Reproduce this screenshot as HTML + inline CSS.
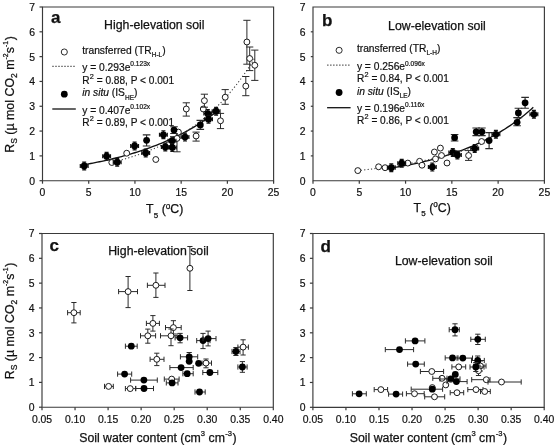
<!DOCTYPE html>
<html><head><meta charset="utf-8"><style>
html,body{margin:0;padding:0;background:#fff;}
body{width:555px;height:445px;overflow:hidden;}
svg{display:block;font-family:"Liberation Sans", sans-serif;will-change:transform;}
svg text{fill:#111;stroke:#111;stroke-width:0.25px;}
svg text.s{stroke-width:0.2px;}
</style></head><body>
<svg width="555" height="445" viewBox="0 0 555 445">
<rect width="555" height="445" fill="#fff"/>
<path d="M42.5,7.0H273.6V180.7H42.5Z" fill="none" stroke="#3a3a3a" stroke-width="1.15"/>
<line x1="39.5" y1="180.70" x2="42.5" y2="180.70" stroke="#3a3a3a" stroke-width="1.2"/>
<text transform="translate(35.10,184.60) scale(1,1.0)" class="s" text-anchor="end" font-size="10.4">0</text>
<line x1="39.5" y1="155.89" x2="42.5" y2="155.89" stroke="#3a3a3a" stroke-width="1.2"/>
<text transform="translate(35.10,159.79) scale(1,1.0)" class="s" text-anchor="end" font-size="10.4">1</text>
<line x1="39.5" y1="131.07" x2="42.5" y2="131.07" stroke="#3a3a3a" stroke-width="1.2"/>
<text transform="translate(35.10,134.97) scale(1,1.0)" class="s" text-anchor="end" font-size="10.4">2</text>
<line x1="39.5" y1="106.26" x2="42.5" y2="106.26" stroke="#3a3a3a" stroke-width="1.2"/>
<text transform="translate(35.10,110.16) scale(1,1.0)" class="s" text-anchor="end" font-size="10.4">3</text>
<line x1="39.5" y1="81.44" x2="42.5" y2="81.44" stroke="#3a3a3a" stroke-width="1.2"/>
<text transform="translate(35.10,85.34) scale(1,1.0)" class="s" text-anchor="end" font-size="10.4">4</text>
<line x1="39.5" y1="56.63" x2="42.5" y2="56.63" stroke="#3a3a3a" stroke-width="1.2"/>
<text transform="translate(35.10,60.53) scale(1,1.0)" class="s" text-anchor="end" font-size="10.4">5</text>
<line x1="39.5" y1="31.81" x2="42.5" y2="31.81" stroke="#3a3a3a" stroke-width="1.2"/>
<text transform="translate(35.10,35.71) scale(1,1.0)" class="s" text-anchor="end" font-size="10.4">6</text>
<line x1="39.5" y1="7.00" x2="42.5" y2="7.00" stroke="#3a3a3a" stroke-width="1.2"/>
<text transform="translate(35.10,10.90) scale(1,1.0)" class="s" text-anchor="end" font-size="10.4">7</text>
<line x1="42.50" y1="180.7" x2="42.50" y2="183.7" stroke="#3a3a3a" stroke-width="1.2"/>
<text transform="translate(42.50,196.00) scale(1,1.0)" class="s" text-anchor="middle" font-size="10.4">0</text>
<line x1="88.72" y1="180.7" x2="88.72" y2="183.7" stroke="#3a3a3a" stroke-width="1.2"/>
<text transform="translate(88.72,196.00) scale(1,1.0)" class="s" text-anchor="middle" font-size="10.4">5</text>
<line x1="134.94" y1="180.7" x2="134.94" y2="183.7" stroke="#3a3a3a" stroke-width="1.2"/>
<text transform="translate(134.94,196.00) scale(1,1.0)" class="s" text-anchor="middle" font-size="10.4">10</text>
<line x1="181.16" y1="180.7" x2="181.16" y2="183.7" stroke="#3a3a3a" stroke-width="1.2"/>
<text transform="translate(181.16,196.00) scale(1,1.0)" class="s" text-anchor="middle" font-size="10.4">15</text>
<line x1="227.38" y1="180.7" x2="227.38" y2="183.7" stroke="#3a3a3a" stroke-width="1.2"/>
<text transform="translate(227.38,196.00) scale(1,1.0)" class="s" text-anchor="middle" font-size="10.4">20</text>
<line x1="273.60" y1="180.7" x2="273.60" y2="183.7" stroke="#3a3a3a" stroke-width="1.2"/>
<text transform="translate(273.60,196.00) scale(1,1.0)" class="s" text-anchor="middle" font-size="10.4">25</text>
<path d="M313.0,7.0H544.4V180.7H313.0Z" fill="none" stroke="#3a3a3a" stroke-width="1.15"/>
<text transform="translate(305.60,184.60) scale(1,1.0)" class="s" text-anchor="end" font-size="10.4">0</text>
<line x1="310.8" y1="155.89" x2="313.0" y2="155.89" stroke="#3a3a3a" stroke-width="1.2"/>
<text transform="translate(305.60,159.79) scale(1,1.0)" class="s" text-anchor="end" font-size="10.4">1</text>
<line x1="310.8" y1="131.07" x2="313.0" y2="131.07" stroke="#3a3a3a" stroke-width="1.2"/>
<text transform="translate(305.60,134.97) scale(1,1.0)" class="s" text-anchor="end" font-size="10.4">2</text>
<line x1="310.8" y1="106.26" x2="313.0" y2="106.26" stroke="#3a3a3a" stroke-width="1.2"/>
<text transform="translate(305.60,110.16) scale(1,1.0)" class="s" text-anchor="end" font-size="10.4">3</text>
<line x1="310.8" y1="81.44" x2="313.0" y2="81.44" stroke="#3a3a3a" stroke-width="1.2"/>
<text transform="translate(305.60,85.34) scale(1,1.0)" class="s" text-anchor="end" font-size="10.4">4</text>
<line x1="310.8" y1="56.63" x2="313.0" y2="56.63" stroke="#3a3a3a" stroke-width="1.2"/>
<text transform="translate(305.60,60.53) scale(1,1.0)" class="s" text-anchor="end" font-size="10.4">5</text>
<line x1="310.8" y1="31.81" x2="313.0" y2="31.81" stroke="#3a3a3a" stroke-width="1.2"/>
<text transform="translate(305.60,35.71) scale(1,1.0)" class="s" text-anchor="end" font-size="10.4">6</text>
<text transform="translate(305.60,10.90) scale(1,1.0)" class="s" text-anchor="end" font-size="10.4">7</text>
<line x1="313.00" y1="180.7" x2="313.00" y2="183.7" stroke="#3a3a3a" stroke-width="1.2"/>
<text transform="translate(313.00,196.00) scale(1,1.0)" class="s" text-anchor="middle" font-size="10.4">0</text>
<line x1="359.28" y1="180.7" x2="359.28" y2="183.7" stroke="#3a3a3a" stroke-width="1.2"/>
<text transform="translate(359.28,196.00) scale(1,1.0)" class="s" text-anchor="middle" font-size="10.4">5</text>
<line x1="405.56" y1="180.7" x2="405.56" y2="183.7" stroke="#3a3a3a" stroke-width="1.2"/>
<text transform="translate(405.56,196.00) scale(1,1.0)" class="s" text-anchor="middle" font-size="10.4">10</text>
<line x1="451.84" y1="180.7" x2="451.84" y2="183.7" stroke="#3a3a3a" stroke-width="1.2"/>
<text transform="translate(451.84,196.00) scale(1,1.0)" class="s" text-anchor="middle" font-size="10.4">15</text>
<line x1="498.12" y1="180.7" x2="498.12" y2="183.7" stroke="#3a3a3a" stroke-width="1.2"/>
<text transform="translate(498.12,196.00) scale(1,1.0)" class="s" text-anchor="middle" font-size="10.4">20</text>
<line x1="544.40" y1="180.7" x2="544.40" y2="183.7" stroke="#3a3a3a" stroke-width="1.2"/>
<text transform="translate(544.40,196.00) scale(1,1.0)" class="s" text-anchor="middle" font-size="10.4">25</text>
<path d="M42.0,233.5H273.3V407.2H42.0Z" fill="none" stroke="#3a3a3a" stroke-width="1.15"/>
<line x1="39.0" y1="407.20" x2="42.0" y2="407.20" stroke="#3a3a3a" stroke-width="1.2"/>
<text transform="translate(34.60,411.10) scale(1,1.0)" class="s" text-anchor="end" font-size="10.4">0</text>
<line x1="39.0" y1="382.39" x2="42.0" y2="382.39" stroke="#3a3a3a" stroke-width="1.2"/>
<text transform="translate(34.60,386.29) scale(1,1.0)" class="s" text-anchor="end" font-size="10.4">1</text>
<line x1="39.0" y1="357.57" x2="42.0" y2="357.57" stroke="#3a3a3a" stroke-width="1.2"/>
<text transform="translate(34.60,361.47) scale(1,1.0)" class="s" text-anchor="end" font-size="10.4">2</text>
<line x1="39.0" y1="332.76" x2="42.0" y2="332.76" stroke="#3a3a3a" stroke-width="1.2"/>
<text transform="translate(34.60,336.66) scale(1,1.0)" class="s" text-anchor="end" font-size="10.4">3</text>
<line x1="39.0" y1="307.94" x2="42.0" y2="307.94" stroke="#3a3a3a" stroke-width="1.2"/>
<text transform="translate(34.60,311.84) scale(1,1.0)" class="s" text-anchor="end" font-size="10.4">4</text>
<line x1="39.0" y1="283.13" x2="42.0" y2="283.13" stroke="#3a3a3a" stroke-width="1.2"/>
<text transform="translate(34.60,287.03) scale(1,1.0)" class="s" text-anchor="end" font-size="10.4">5</text>
<line x1="39.0" y1="258.31" x2="42.0" y2="258.31" stroke="#3a3a3a" stroke-width="1.2"/>
<text transform="translate(34.60,262.21) scale(1,1.0)" class="s" text-anchor="end" font-size="10.4">6</text>
<line x1="39.0" y1="233.50" x2="42.0" y2="233.50" stroke="#3a3a3a" stroke-width="1.2"/>
<text transform="translate(34.60,237.40) scale(1,1.0)" class="s" text-anchor="end" font-size="10.4">7</text>
<line x1="42.00" y1="407.2" x2="42.00" y2="410.2" stroke="#3a3a3a" stroke-width="1.2"/>
<text transform="translate(42.00,422.50) scale(1,1.0)" class="s" text-anchor="middle" font-size="10.4">0.05</text>
<line x1="75.04" y1="407.2" x2="75.04" y2="410.2" stroke="#3a3a3a" stroke-width="1.2"/>
<text transform="translate(75.04,422.50) scale(1,1.0)" class="s" text-anchor="middle" font-size="10.4">0.10</text>
<line x1="108.09" y1="407.2" x2="108.09" y2="410.2" stroke="#3a3a3a" stroke-width="1.2"/>
<text transform="translate(108.09,422.50) scale(1,1.0)" class="s" text-anchor="middle" font-size="10.4">0.15</text>
<line x1="141.13" y1="407.2" x2="141.13" y2="410.2" stroke="#3a3a3a" stroke-width="1.2"/>
<text transform="translate(141.13,422.50) scale(1,1.0)" class="s" text-anchor="middle" font-size="10.4">0.20</text>
<line x1="174.17" y1="407.2" x2="174.17" y2="410.2" stroke="#3a3a3a" stroke-width="1.2"/>
<text transform="translate(174.17,422.50) scale(1,1.0)" class="s" text-anchor="middle" font-size="10.4">0.25</text>
<line x1="207.21" y1="407.2" x2="207.21" y2="410.2" stroke="#3a3a3a" stroke-width="1.2"/>
<text transform="translate(207.21,422.50) scale(1,1.0)" class="s" text-anchor="middle" font-size="10.4">0.30</text>
<line x1="240.26" y1="407.2" x2="240.26" y2="410.2" stroke="#3a3a3a" stroke-width="1.2"/>
<text transform="translate(240.26,422.50) scale(1,1.0)" class="s" text-anchor="middle" font-size="10.4">0.35</text>
<line x1="273.30" y1="407.2" x2="273.30" y2="410.2" stroke="#3a3a3a" stroke-width="1.2"/>
<text transform="translate(273.30,422.50) scale(1,1.0)" class="s" text-anchor="middle" font-size="10.4">0.40</text>
<path d="M312.9,233.5H544.2V407.3H312.9Z" fill="none" stroke="#3a3a3a" stroke-width="1.15"/>
<line x1="309.9" y1="407.30" x2="312.9" y2="407.30" stroke="#3a3a3a" stroke-width="1.2"/>
<text transform="translate(305.50,411.20) scale(1,1.0)" class="s" text-anchor="end" font-size="10.4">0</text>
<line x1="309.9" y1="382.47" x2="312.9" y2="382.47" stroke="#3a3a3a" stroke-width="1.2"/>
<text transform="translate(305.50,386.37) scale(1,1.0)" class="s" text-anchor="end" font-size="10.4">1</text>
<line x1="309.9" y1="357.64" x2="312.9" y2="357.64" stroke="#3a3a3a" stroke-width="1.2"/>
<text transform="translate(305.50,361.54) scale(1,1.0)" class="s" text-anchor="end" font-size="10.4">2</text>
<line x1="309.9" y1="332.81" x2="312.9" y2="332.81" stroke="#3a3a3a" stroke-width="1.2"/>
<text transform="translate(305.50,336.71) scale(1,1.0)" class="s" text-anchor="end" font-size="10.4">3</text>
<line x1="309.9" y1="307.99" x2="312.9" y2="307.99" stroke="#3a3a3a" stroke-width="1.2"/>
<text transform="translate(305.50,311.89) scale(1,1.0)" class="s" text-anchor="end" font-size="10.4">4</text>
<line x1="309.9" y1="283.16" x2="312.9" y2="283.16" stroke="#3a3a3a" stroke-width="1.2"/>
<text transform="translate(305.50,287.06) scale(1,1.0)" class="s" text-anchor="end" font-size="10.4">5</text>
<line x1="309.9" y1="258.33" x2="312.9" y2="258.33" stroke="#3a3a3a" stroke-width="1.2"/>
<text transform="translate(305.50,262.23) scale(1,1.0)" class="s" text-anchor="end" font-size="10.4">6</text>
<line x1="309.9" y1="233.50" x2="312.9" y2="233.50" stroke="#3a3a3a" stroke-width="1.2"/>
<text transform="translate(305.50,237.40) scale(1,1.0)" class="s" text-anchor="end" font-size="10.4">7</text>
<line x1="312.90" y1="407.3" x2="312.90" y2="410.3" stroke="#3a3a3a" stroke-width="1.2"/>
<text transform="translate(312.90,422.60) scale(1,1.0)" class="s" text-anchor="middle" font-size="10.4">0.05</text>
<line x1="345.94" y1="407.3" x2="345.94" y2="410.3" stroke="#3a3a3a" stroke-width="1.2"/>
<text transform="translate(345.94,422.60) scale(1,1.0)" class="s" text-anchor="middle" font-size="10.4">0.10</text>
<line x1="378.99" y1="407.3" x2="378.99" y2="410.3" stroke="#3a3a3a" stroke-width="1.2"/>
<text transform="translate(378.99,422.60) scale(1,1.0)" class="s" text-anchor="middle" font-size="10.4">0.15</text>
<line x1="412.03" y1="407.3" x2="412.03" y2="410.3" stroke="#3a3a3a" stroke-width="1.2"/>
<text transform="translate(412.03,422.60) scale(1,1.0)" class="s" text-anchor="middle" font-size="10.4">0.20</text>
<line x1="445.07" y1="407.3" x2="445.07" y2="410.3" stroke="#3a3a3a" stroke-width="1.2"/>
<text transform="translate(445.07,422.60) scale(1,1.0)" class="s" text-anchor="middle" font-size="10.4">0.25</text>
<line x1="478.11" y1="407.3" x2="478.11" y2="410.3" stroke="#3a3a3a" stroke-width="1.2"/>
<text transform="translate(478.11,422.60) scale(1,1.0)" class="s" text-anchor="middle" font-size="10.4">0.30</text>
<line x1="511.16" y1="407.3" x2="511.16" y2="410.3" stroke="#3a3a3a" stroke-width="1.2"/>
<text transform="translate(511.16,422.60) scale(1,1.0)" class="s" text-anchor="middle" font-size="10.4">0.35</text>
<line x1="544.20" y1="407.3" x2="544.20" y2="410.3" stroke="#3a3a3a" stroke-width="1.2"/>
<text transform="translate(544.20,422.60) scale(1,1.0)" class="s" text-anchor="middle" font-size="10.4">0.40</text>
<text x="50.9" y="23.4" font-size="17" font-weight="bold">a</text>
<text x="322.0" y="26.4" font-size="17" font-weight="bold">b</text>
<text x="49.6" y="251.0" font-size="17" font-weight="bold">c</text>
<text x="320.6" y="252.0" font-size="17" font-weight="bold">d</text>
<text x="104.1" y="28.8" font-size="12.3">High-elevation soil</text>
<text x="388.1" y="29.7" font-size="12.3">Low-elevation soil</text>
<text x="108.2" y="254.6" font-size="12.3">High-elevation soil</text>
<text x="394.9" y="264.7" font-size="12.3">Low-elevation soil</text>
<text x="146.0" y="213.3" font-size="12.3">T<tspan font-size="8" dx="0.3" dy="4.2">5</tspan><tspan dy="-4.2"> (</tspan><tspan font-size="8.2" dy="-4.6">o</tspan><tspan dy="4.6">C)</tspan></text>
<text x="413.5" y="212.0" font-size="12.3">T<tspan font-size="8" dx="0.3" dy="4.2">5</tspan><tspan dy="-4.2"> (</tspan><tspan font-size="8.2" dy="-4.6">o</tspan><tspan dy="4.6">C)</tspan></text>
<text x="79.2" y="442.1" font-size="12.3">Soil water content (cm<tspan font-size="7.6" dy="-6.4">3</tspan><tspan dy="6.4"> cm</tspan><tspan font-size="7.6" dx="0.3" dy="-6.4">-3</tspan><tspan dx="0.5" dy="6.4">)</tspan></text>
<text x="349.8" y="442.1" font-size="12.3">Soil water content (cm<tspan font-size="7.6" dy="-6.4">3</tspan><tspan dy="6.4"> cm</tspan><tspan font-size="7.6" dx="0.3" dy="-6.4">-3</tspan><tspan dx="0.5" dy="6.4">)</tspan></text>
<text transform="translate(13.5,94.5) rotate(-90)" text-anchor="middle" font-size="12.4">R<tspan font-size="8.6" dy="3.6">S</tspan><tspan dy="-3.6"> (µ mol CO</tspan><tspan font-size="8.6" dy="3.6">2</tspan><tspan dy="-3.6"> m</tspan><tspan font-size="6.9" dy="-5.7">-2</tspan><tspan dy="5.7">s</tspan><tspan font-size="6.9" dy="-5.7">-1</tspan><tspan dx="0.6" dy="5.7">)</tspan></text>
<text transform="translate(13.5,321.0) rotate(-90)" text-anchor="middle" font-size="12.4">R<tspan font-size="8.6" dy="3.6">S</tspan><tspan dy="-3.6"> (µ mol CO</tspan><tspan font-size="8.6" dy="3.6">2</tspan><tspan dy="-3.6"> m</tspan><tspan font-size="6.9" dy="-5.7">-2</tspan><tspan dy="5.7">s</tspan><tspan font-size="6.9" dy="-5.7">-1</tspan><tspan dx="0.6" dy="5.7">)</tspan></text>
<circle cx="64.3" cy="52.0" r="3.05" fill="#fff" stroke="#222" stroke-width="0.95"/>
<line x1="52.199999999999996" y1="66.4" x2="75.6" y2="66.4" stroke="#6a6a6a" stroke-width="1.25" stroke-dasharray="1.6,1.4"/>
<circle cx="64.3" cy="94.2" r="3.4" fill="#000"/>
<line x1="52.3" y1="109.0" x2="75.8" y2="109.0" stroke="#111" stroke-width="1.3"/>
<text transform="translate(82.2,53.9) scale(1,1.0)" class="s" font-size="10.25">transferred (TR<tspan font-size="6.5" dy="3.4">H-L</tspan><tspan dy="-3.4">)</tspan></text>
<text transform="translate(82.2,70.8) scale(1,1.0)" class="s" font-size="10.25">y = 0.293e<tspan font-size="6.6" dy="-4.6">0.123x</tspan></text>
<text transform="translate(82.2,84.0) scale(1,1.0)" class="s" font-size="10.12">R<tspan font-size="7.3" dx="0.3" dy="-5.4">2</tspan><tspan dy="5.4"> = 0.88, P &lt; 0.001</tspan></text>
<text transform="translate(82.2,96.2) scale(1,1.0)" class="s" font-size="10.25"><tspan font-style="italic">in situ</tspan> (IS<tspan font-size="6.5" dy="3.4">HE</tspan><tspan dy="-3.4">)</tspan></text>
<text transform="translate(82.2,113.9) scale(1,1.0)" class="s" font-size="10.25">y = 0.407e<tspan font-size="6.6" dy="-4.6">0.102x</tspan></text>
<text transform="translate(82.2,126.3) scale(1,1.0)" class="s" font-size="10.12">R<tspan font-size="7.3" dx="0.3" dy="-5.4">2</tspan><tspan dy="5.4"> = 0.89, P &lt; 0.001</tspan></text>
<circle cx="339.1" cy="50.3" r="3.05" fill="#fff" stroke="#222" stroke-width="0.95"/>
<line x1="327.0" y1="65.2" x2="350.40000000000003" y2="65.2" stroke="#6a6a6a" stroke-width="1.25" stroke-dasharray="1.6,1.4"/>
<circle cx="339.1" cy="92.5" r="3.4" fill="#000"/>
<line x1="327.1" y1="107.7" x2="350.6" y2="107.7" stroke="#111" stroke-width="1.3"/>
<text transform="translate(356.9,51.9) scale(1,1.0)" class="s" font-size="10.25">transferred (TR<tspan font-size="6.5" dy="3.4">L-H</tspan><tspan dy="-3.4">)</tspan></text>
<text transform="translate(356.9,70.2) scale(1,1.0)" class="s" font-size="10.25">y = 0.256e<tspan font-size="6.6" dy="-4.6">0.096x</tspan></text>
<text transform="translate(356.9,82.4) scale(1,1.0)" class="s" font-size="10.12">R<tspan font-size="7.3" dx="0.3" dy="-5.4">2</tspan><tspan dy="5.4"> = 0.84, P &lt; 0.001</tspan></text>
<text transform="translate(356.9,94.6) scale(1,1.0)" class="s" font-size="10.25"><tspan font-style="italic">in situ</tspan> (IS<tspan font-size="6.5" dy="3.4">LE</tspan><tspan dy="-3.4">)</tspan></text>
<text transform="translate(356.9,111.9) scale(1,1.0)" class="s" font-size="10.25">y = 0.196e<tspan font-size="6.6" dy="-4.6">0.116x</tspan></text>
<text transform="translate(356.9,124.3) scale(1,1.0)" class="s" font-size="10.12">R<tspan font-size="7.3" dx="0.3" dy="-5.4">2</tspan><tspan dy="5.4"> = 0.86, P &lt; 0.001</tspan></text>
<polyline points="84.10,164.72 86.30,164.32 88.50,163.92 90.71,163.51 92.91,163.09 95.11,162.65 97.32,162.21 99.52,161.75 101.72,161.29 103.93,160.81 106.13,160.32 108.33,159.82 110.54,159.30 112.74,158.78 114.94,158.24 117.15,157.69 119.35,157.12 121.55,156.54 123.75,155.94 125.96,155.34 128.16,154.71 130.36,154.07 132.57,153.42 134.77,152.74 136.97,152.06 139.18,151.35 141.38,150.63 143.58,149.89 145.79,149.13 147.99,148.35 150.19,147.56 152.40,146.74 154.60,145.91 156.80,145.05 159.01,144.17 161.21,143.28 163.41,142.35 165.61,141.41 167.82,140.44 170.02,139.45 172.22,138.44 174.43,137.40 176.63,136.33 178.83,135.24 181.04,134.12 183.24,132.98 185.44,131.80 187.65,130.60 189.85,129.37 192.05,128.10 194.26,126.81 196.46,125.48 198.66,124.12 200.87,122.73 203.07,121.30 205.27,119.84 207.47,118.35 209.68,116.81 211.88,115.24 214.08,113.63 216.29,111.98" fill="none" stroke="#111" stroke-width="1.35"/>
<polyline points="111.83,162.41 114.22,161.82 116.61,161.21 118.99,160.58 121.38,159.93 123.77,159.26 126.16,158.57 128.55,157.85 130.93,157.12 133.32,156.36 135.71,155.57 138.10,154.76 140.49,153.92 142.87,153.06 145.26,152.16 147.65,151.24 150.04,150.29 152.43,149.31 154.81,148.30 157.20,147.25 159.59,146.17 161.98,145.05 164.37,143.90 166.75,142.72 169.14,141.49 171.53,140.22 173.92,138.92 176.31,137.57 178.69,136.18 181.08,134.74 183.47,133.25 185.86,131.72 188.25,130.14 190.64,128.51 193.02,126.82 195.41,125.08 197.80,123.29 200.19,121.44 202.58,119.52 204.96,117.55 207.35,115.51 209.74,113.40 212.13,111.23 214.52,108.99 216.90,106.67 219.29,104.28 221.68,101.82 224.07,99.27 226.46,96.64 228.84,93.93 231.23,91.12 233.62,88.23 236.01,85.25 238.40,82.16 240.78,78.98 243.17,75.70 245.56,72.31 247.95,68.81 250.34,65.20 252.72,61.47 255.11,57.62" fill="none" stroke="#444" stroke-width="1.1" stroke-dasharray="1.2,2.2"/>
<circle cx="111.8" cy="162.5" r="2.9499999999999997" fill="#fff" stroke="#111" stroke-width="0.95"/>
<circle cx="126.7" cy="153.2" r="2.9499999999999997" fill="#fff" stroke="#111" stroke-width="0.95"/>
<circle cx="155.8" cy="159.5" r="2.9499999999999997" fill="#fff" stroke="#111" stroke-width="0.95"/>
<circle cx="178.4" cy="132.1" r="2.9499999999999997" fill="#fff" stroke="#111" stroke-width="0.95"/>
<path d="M177.0,137.0V151.8M173.4,137.0h7.2M173.4,151.8h7.2" fill="none" stroke="#2a2a2a" stroke-width="1.0"/>
<circle cx="177.0" cy="138.4" r="2.9499999999999997" fill="#fff" stroke="#111" stroke-width="0.95"/>
<path d="M186.3,102.8V116.1M182.7,102.8h7.2M182.7,116.1h7.2" fill="none" stroke="#2a2a2a" stroke-width="1.0"/>
<circle cx="186.3" cy="109.0" r="2.9499999999999997" fill="#fff" stroke="#111" stroke-width="0.95"/>
<path d="M196.1,132.1V141.1M192.5,132.1h7.2M192.5,141.1h7.2" fill="none" stroke="#2a2a2a" stroke-width="1.0"/>
<circle cx="196.1" cy="136.0" r="2.9499999999999997" fill="#fff" stroke="#111" stroke-width="0.95"/>
<circle cx="203.3" cy="109.0" r="2.9499999999999997" fill="#fff" stroke="#111" stroke-width="0.95"/>
<path d="M204.4,94.2V107.2M200.8,94.2h7.2M200.8,107.2h7.2" fill="none" stroke="#2a2a2a" stroke-width="1.0"/>
<circle cx="204.4" cy="100.7" r="2.9499999999999997" fill="#fff" stroke="#111" stroke-width="0.95"/>
<path d="M220.5,113.4V128.6M216.9,113.4h7.2M216.9,128.6h7.2" fill="none" stroke="#2a2a2a" stroke-width="1.0"/>
<circle cx="220.5" cy="120.8" r="2.9499999999999997" fill="#fff" stroke="#111" stroke-width="0.95"/>
<path d="M225.2,89.6V104.3M221.6,89.6h7.2M221.6,104.3h7.2" fill="none" stroke="#2a2a2a" stroke-width="1.0"/>
<circle cx="225.2" cy="97.2" r="2.9499999999999997" fill="#fff" stroke="#111" stroke-width="0.95"/>
<path d="M245.8,76.5V95.7M242.2,76.5h7.2M242.2,95.7h7.2" fill="none" stroke="#2a2a2a" stroke-width="1.0"/>
<circle cx="245.8" cy="86.1" r="2.9499999999999997" fill="#fff" stroke="#111" stroke-width="0.95"/>
<path d="M246.9,20.3V64.2M243.3,20.3h7.2M243.3,64.2h7.2" fill="none" stroke="#2a2a2a" stroke-width="1.0"/>
<circle cx="246.9" cy="42.0" r="2.9499999999999997" fill="#fff" stroke="#111" stroke-width="0.95"/>
<path d="M249.7,47.0V70.6M246.1,47.0h7.2M246.1,70.6h7.2" fill="none" stroke="#2a2a2a" stroke-width="1.0"/>
<circle cx="249.7" cy="58.5" r="2.9499999999999997" fill="#fff" stroke="#111" stroke-width="0.95"/>
<path d="M254.8,50.1V80.4M251.2,50.1h7.2M251.2,80.4h7.2" fill="none" stroke="#2a2a2a" stroke-width="1.0"/>
<circle cx="254.8" cy="65.3" r="2.9499999999999997" fill="#fff" stroke="#111" stroke-width="0.95"/>
<path d="M84.2,162.1V169.9M82.2,162.1h4.0M82.2,169.9h4.0M80.3,166.0H88.1M80.3,164.0v4.0M88.1,164.0v4.0" fill="none" stroke="#111" stroke-width="1.2"/>
<circle cx="84.2" cy="166.0" r="3.4" fill="#000"/>
<path d="M106.6,152.3V160.1M104.6,152.3h4.0M104.6,160.1h4.0M102.7,156.2H110.5M102.7,154.2v4.0M110.5,154.2v4.0" fill="none" stroke="#111" stroke-width="1.2"/>
<circle cx="106.6" cy="156.2" r="3.4" fill="#000"/>
<path d="M117.2,158.3V166.1M115.2,158.3h4.0M115.2,166.1h4.0M113.3,162.2H121.1M113.3,160.2v4.0M121.1,160.2v4.0" fill="none" stroke="#111" stroke-width="1.2"/>
<circle cx="117.2" cy="162.2" r="3.4" fill="#000"/>
<path d="M134.6,142.1V149.9M132.6,142.1h4.0M132.6,149.9h4.0M130.7,146.0H138.5M130.7,144.0v4.0M138.5,144.0v4.0" fill="none" stroke="#111" stroke-width="1.2"/>
<circle cx="134.6" cy="146.0" r="3.4" fill="#000"/>
<path d="M146.6,134.9V146.0M142.8,134.9h7.6M142.8,146.0h7.6" fill="none" stroke="#2a2a2a" stroke-width="1.15"/>
<circle cx="146.6" cy="140.3" r="3.4" fill="#000"/>
<path d="M145.7,149.1V156.9M143.7,149.1h4.0M143.7,156.9h4.0M141.8,153.0H149.6M141.8,151.0v4.0M149.6,151.0v4.0" fill="none" stroke="#111" stroke-width="1.2"/>
<circle cx="145.7" cy="153.0" r="3.4" fill="#000"/>
<path d="M163.4,130.9V138.7M161.4,130.9h4.0M161.4,138.7h4.0M159.5,134.8H167.3M159.5,132.8v4.0M167.3,132.8v4.0" fill="none" stroke="#111" stroke-width="1.2"/>
<circle cx="163.4" cy="134.8" r="3.4" fill="#000"/>
<path d="M165.3,143.1V150.9M163.3,143.1h4.0M163.3,150.9h4.0M161.4,147.0H169.2M161.4,145.0v4.0M169.2,145.0v4.0" fill="none" stroke="#111" stroke-width="1.2"/>
<circle cx="165.3" cy="147.0" r="3.4" fill="#000"/>
<path d="M172.0,136.9V144.7M170.0,136.9h4.0M170.0,144.7h4.0M168.1,140.8H175.9M168.1,138.8v4.0M175.9,138.8v4.0" fill="none" stroke="#111" stroke-width="1.2"/>
<circle cx="172.0" cy="140.8" r="3.4" fill="#000"/>
<path d="M172.3,143.7V151.5M170.3,143.7h4.0M170.3,151.5h4.0M168.4,147.6H176.2M168.4,145.6v4.0M176.2,145.6v4.0" fill="none" stroke="#111" stroke-width="1.2"/>
<circle cx="172.3" cy="147.6" r="3.4" fill="#000"/>
<path d="M174.0,126.7V133.5M170.2,126.7h7.6M170.2,133.5h7.6" fill="none" stroke="#2a2a2a" stroke-width="1.15"/>
<circle cx="174.0" cy="130.1" r="3.4" fill="#000"/>
<path d="M185.0,133.2V141.0M183.0,133.2h4.0M183.0,141.0h4.0M181.1,137.1H188.9M181.1,135.1v4.0M188.9,135.1v4.0" fill="none" stroke="#111" stroke-width="1.2"/>
<circle cx="185.0" cy="137.1" r="3.4" fill="#000"/>
<path d="M200.3,120.4V129.4M196.5,120.4h7.6M196.5,129.4h7.6" fill="none" stroke="#2a2a2a" stroke-width="1.15"/>
<circle cx="200.3" cy="124.9" r="3.4" fill="#000"/>
<path d="M207.8,109.7V117.5M205.8,109.7h4.0M205.8,117.5h4.0M203.9,113.6H211.7M203.9,111.6v4.0M211.7,111.6v4.0" fill="none" stroke="#111" stroke-width="1.2"/>
<circle cx="207.8" cy="113.6" r="3.4" fill="#000"/>
<path d="M208.5,115.3V123.1M206.5,115.3h4.0M206.5,123.1h4.0M204.6,119.2H212.4M204.6,117.2v4.0M212.4,117.2v4.0" fill="none" stroke="#111" stroke-width="1.2"/>
<circle cx="208.5" cy="119.2" r="3.4" fill="#000"/>
<path d="M216.1,107.3V115.1M214.1,107.3h4.0M214.1,115.1h4.0M212.2,111.2H220.0M212.2,109.2v4.0M220.0,109.2v4.0" fill="none" stroke="#111" stroke-width="1.2"/>
<circle cx="216.1" cy="111.2" r="3.4" fill="#000"/>
<polyline points="391.68,167.88 394.04,167.50 396.40,167.12 398.76,166.71 401.12,166.30 403.48,165.88 405.84,165.44 408.20,164.99 410.56,164.53 412.92,164.05 415.28,163.56 417.64,163.05 420.00,162.53 422.36,162.00 424.72,161.45 427.08,160.88 429.44,160.29 431.80,159.69 434.16,159.07 436.52,158.43 438.88,157.78 441.24,157.10 443.60,156.40 445.96,155.69 448.32,154.95 450.68,154.19 453.04,153.41 455.40,152.60 457.76,151.77 460.12,150.92 462.48,150.04 464.84,149.14 467.20,148.21 469.57,147.25 471.93,146.26 474.29,145.25 476.65,144.20 479.01,143.12 481.37,142.02 483.73,140.87 486.09,139.70 488.45,138.49 490.81,137.25 493.17,135.96 495.53,134.64 497.89,133.29 500.25,131.89 502.61,130.45 504.97,128.96 507.33,127.44 509.69,125.87 512.05,124.25 514.41,122.59 516.77,120.87 519.13,119.11 521.49,117.29 523.85,115.42 526.21,113.49 528.57,111.51 530.93,109.47 533.29,107.37" fill="none" stroke="#111" stroke-width="1.35"/>
<polyline points="357.43,170.63 359.54,170.41 361.66,170.18 363.77,169.94 365.88,169.71 368.00,169.46 370.11,169.21 372.22,168.96 374.34,168.70 376.45,168.43 378.56,168.16 380.68,167.88 382.79,167.60 384.90,167.31 387.02,167.01 389.13,166.71 391.24,166.40 393.36,166.08 395.47,165.76 397.58,165.43 399.70,165.09 401.81,164.74 403.92,164.39 406.04,164.03 408.15,163.66 410.27,163.28 412.38,162.89 414.49,162.50 416.61,162.10 418.72,161.68 420.83,161.26 422.95,160.83 425.06,160.39 427.17,159.94 429.29,159.48 431.40,159.01 433.51,158.53 435.63,158.04 437.74,157.54 439.85,157.02 441.97,156.50 444.08,155.96 446.19,155.41 448.31,154.85 450.42,154.28 452.53,153.69 454.65,153.10 456.76,152.48 458.87,151.86 460.99,151.22 463.10,150.57 465.21,149.90 467.33,149.22 469.44,148.52 471.56,147.80 473.67,147.08 475.78,146.33 477.90,145.57 480.01,144.79 482.12,143.99 484.24,143.18" fill="none" stroke="#444" stroke-width="1.1" stroke-dasharray="1.2,2.2"/>
<circle cx="357.8" cy="170.6" r="2.9499999999999997" fill="#fff" stroke="#111" stroke-width="0.95"/>
<circle cx="378.6" cy="166.8" r="2.9499999999999997" fill="#fff" stroke="#111" stroke-width="0.95"/>
<circle cx="385.1" cy="167.7" r="2.9499999999999997" fill="#fff" stroke="#111" stroke-width="0.95"/>
<circle cx="407.8" cy="163.1" r="2.9499999999999997" fill="#fff" stroke="#111" stroke-width="0.95"/>
<circle cx="419.6" cy="161.3" r="2.9499999999999997" fill="#fff" stroke="#111" stroke-width="0.95"/>
<circle cx="422.0" cy="165.2" r="2.9499999999999997" fill="#fff" stroke="#111" stroke-width="0.95"/>
<circle cx="434.4" cy="152.0" r="2.9499999999999997" fill="#fff" stroke="#111" stroke-width="0.95"/>
<circle cx="440.4" cy="148.1" r="2.9499999999999997" fill="#fff" stroke="#111" stroke-width="0.95"/>
<circle cx="435.5" cy="158.9" r="2.9499999999999997" fill="#fff" stroke="#111" stroke-width="0.95"/>
<circle cx="441.5" cy="155.5" r="2.9499999999999997" fill="#fff" stroke="#111" stroke-width="0.95"/>
<circle cx="447.0" cy="163.0" r="2.9499999999999997" fill="#fff" stroke="#111" stroke-width="0.95"/>
<path d="M468.6,150.6V160.4M465.0,150.6h7.2M465.0,160.4h7.2" fill="none" stroke="#2a2a2a" stroke-width="1.0"/>
<circle cx="468.6" cy="155.5" r="2.9499999999999997" fill="#fff" stroke="#111" stroke-width="0.95"/>
<circle cx="481.6" cy="141.5" r="2.9499999999999997" fill="#fff" stroke="#111" stroke-width="0.95"/>
<path d="M391.3,163.8V171.6M389.3,163.8h4.0M389.3,171.6h4.0M387.4,167.7H395.2M387.4,165.7v4.0M395.2,165.7v4.0" fill="none" stroke="#111" stroke-width="1.2"/>
<circle cx="391.3" cy="167.7" r="3.4" fill="#000"/>
<path d="M401.7,159.3V167.1M399.7,159.3h4.0M399.7,167.1h4.0M397.8,163.2H405.6M397.8,161.2v4.0M405.6,161.2v4.0" fill="none" stroke="#111" stroke-width="1.2"/>
<circle cx="401.7" cy="163.2" r="3.4" fill="#000"/>
<path d="M432.3,163.2V171.0M430.3,163.2h4.0M430.3,171.0h4.0M428.4,167.1H436.2M428.4,165.1v4.0M436.2,165.1v4.0" fill="none" stroke="#111" stroke-width="1.2"/>
<circle cx="432.3" cy="167.1" r="3.4" fill="#000"/>
<path d="M454.6,134.5V141.0M450.8,134.5h7.6M450.8,141.0h7.6" fill="none" stroke="#2a2a2a" stroke-width="1.15"/>
<circle cx="454.6" cy="137.7" r="3.4" fill="#000"/>
<path d="M452.8,148.6V156.4M450.8,148.6h4.0M450.8,156.4h4.0M448.9,152.5H456.7M448.9,150.5v4.0M456.7,150.5v4.0" fill="none" stroke="#111" stroke-width="1.2"/>
<circle cx="452.8" cy="152.5" r="3.4" fill="#000"/>
<path d="M457.4,151.1V158.9M455.4,151.1h4.0M455.4,158.9h4.0M453.5,155.0H461.3M453.5,153.0v4.0M461.3,153.0v4.0" fill="none" stroke="#111" stroke-width="1.2"/>
<circle cx="457.4" cy="155.0" r="3.4" fill="#000"/>
<path d="M474.7,144.6V152.4M472.7,144.6h4.0M472.7,152.4h4.0M470.8,148.5H478.6M470.8,146.5v4.0M478.6,146.5v4.0" fill="none" stroke="#111" stroke-width="1.2"/>
<circle cx="474.7" cy="148.5" r="3.4" fill="#000"/>
<path d="M476.2,128.0V135.6M472.4,128.0h7.6M472.4,135.6h7.6" fill="none" stroke="#2a2a2a" stroke-width="1.15"/>
<circle cx="476.2" cy="131.8" r="3.4" fill="#000"/>
<path d="M481.9,128.0V135.6M478.1,128.0h7.6M478.1,135.6h7.6" fill="none" stroke="#2a2a2a" stroke-width="1.15"/>
<circle cx="481.9" cy="131.8" r="3.4" fill="#000"/>
<path d="M489.1,132.6V148.6M485.3,132.6h7.6M485.3,148.6h7.6" fill="none" stroke="#2a2a2a" stroke-width="1.15"/>
<circle cx="489.1" cy="140.6" r="3.4" fill="#000"/>
<path d="M495.9,130.4V138.2M493.9,130.4h4.0M493.9,138.2h4.0M492.0,134.3H499.8M492.0,132.3v4.0M499.8,132.3v4.0" fill="none" stroke="#111" stroke-width="1.2"/>
<circle cx="495.9" cy="134.3" r="3.4" fill="#000"/>
<path d="M517.1,117.6V125.7M513.3,117.6h7.6M513.3,125.7h7.6" fill="none" stroke="#2a2a2a" stroke-width="1.15"/>
<circle cx="517.1" cy="122.3" r="3.4" fill="#000"/>
<path d="M518.4,108.2V117.6M514.6,108.2h7.6M514.6,117.6h7.6" fill="none" stroke="#2a2a2a" stroke-width="1.15"/>
<circle cx="518.4" cy="112.9" r="3.4" fill="#000"/>
<path d="M525.1,97.4V108.2M521.3,97.4h7.6M521.3,108.2h7.6" fill="none" stroke="#2a2a2a" stroke-width="1.15"/>
<circle cx="525.1" cy="102.8" r="3.4" fill="#000"/>
<path d="M533.9,110.4V118.2M531.9,110.4h4.0M531.9,118.2h4.0M530.0,114.3H537.8M530.0,112.3v4.0M537.8,112.3v4.0" fill="none" stroke="#111" stroke-width="1.2"/>
<circle cx="533.9" cy="114.3" r="3.4" fill="#000"/>
<path d="M73.9,302.5V322.9M71.3,302.5h5.2M71.3,322.9h5.2M67.6,312.7H80.2M67.6,310.1v5.2M80.2,310.1v5.2" fill="none" stroke="#2a2a2a" stroke-width="1.0"/>
<circle cx="73.9" cy="312.7" r="2.9499999999999997" fill="#fff" stroke="#111" stroke-width="0.95"/>
<path d="M128.1,276.5V307.6M125.5,276.5h5.2M125.5,307.6h5.2M118.6,291.6H137.5M118.6,289.0v5.2M137.5,289.0v5.2" fill="none" stroke="#2a2a2a" stroke-width="1.0"/>
<circle cx="128.1" cy="291.6" r="2.9499999999999997" fill="#fff" stroke="#111" stroke-width="0.95"/>
<path d="M155.9,273.0V297.4M153.3,273.0h5.2M153.3,297.4h5.2M147.4,285.3H165.0M147.4,282.7v5.2M165.0,282.7v5.2" fill="none" stroke="#2a2a2a" stroke-width="1.0"/>
<circle cx="155.9" cy="285.3" r="2.9499999999999997" fill="#fff" stroke="#111" stroke-width="0.95"/>
<path d="M189.9,246.5V290.5M187.3,246.5h5.2M187.3,290.5h5.2" fill="none" stroke="#2a2a2a" stroke-width="1.0"/>
<circle cx="189.9" cy="268.3" r="2.9499999999999997" fill="#fff" stroke="#111" stroke-width="0.95"/>
<path d="M152.9,315.6V331.1M150.3,315.6h5.2M150.3,331.1h5.2M146.4,323.4H159.4M146.4,320.8v5.2M159.4,320.8v5.2" fill="none" stroke="#2a2a2a" stroke-width="1.0"/>
<circle cx="152.9" cy="323.4" r="2.9499999999999997" fill="#fff" stroke="#111" stroke-width="0.95"/>
<path d="M147.8,329.1V343.2M145.2,329.1h5.2M145.2,343.2h5.2M140.5,335.8H155.6M140.5,333.2v5.2M155.6,333.2v5.2" fill="none" stroke="#2a2a2a" stroke-width="1.0"/>
<circle cx="147.8" cy="335.8" r="2.9499999999999997" fill="#fff" stroke="#111" stroke-width="0.95"/>
<path d="M173.4,320.7V334.0M170.8,320.7h5.2M170.8,334.0h5.2M165.5,327.6H181.2M165.5,325.0v5.2M181.2,325.0v5.2" fill="none" stroke="#2a2a2a" stroke-width="1.0"/>
<circle cx="173.4" cy="327.6" r="2.9499999999999997" fill="#fff" stroke="#111" stroke-width="0.95"/>
<path d="M171.0,329.0V345.7M168.4,329.0h5.2M168.4,345.7h5.2M160.5,335.8H177.0M160.5,333.2v5.2M177.0,333.2v5.2" fill="none" stroke="#2a2a2a" stroke-width="1.0"/>
<circle cx="171.0" cy="335.8" r="2.9499999999999997" fill="#fff" stroke="#111" stroke-width="0.95"/>
<path d="M156.8,353.2V365.6M154.2,353.2h5.2M154.2,365.6h5.2M150.1,359.3H164.0M150.1,356.7v5.2M164.0,356.7v5.2" fill="none" stroke="#2a2a2a" stroke-width="1.0"/>
<circle cx="156.8" cy="359.3" r="2.9499999999999997" fill="#fff" stroke="#111" stroke-width="0.95"/>
<path d="M206.0,359.0V367.8M203.4,359.0h5.2M203.4,367.8h5.2M202.0,363.1H211.5M202.0,360.5v5.2M211.5,360.5v5.2" fill="none" stroke="#2a2a2a" stroke-width="1.0"/>
<circle cx="206.0" cy="363.1" r="2.9499999999999997" fill="#fff" stroke="#111" stroke-width="0.95"/>
<path d="M243.1,339.8V355.0M240.5,339.8h5.2M240.5,355.0h5.2M237.9,347.1H248.4M237.9,344.5v5.2M248.4,344.5v5.2" fill="none" stroke="#2a2a2a" stroke-width="1.0"/>
<circle cx="243.1" cy="347.1" r="2.9499999999999997" fill="#fff" stroke="#111" stroke-width="0.95"/>
<path d="M104.5,386.4H113.3M104.5,383.8v5.2M113.3,383.8v5.2" fill="none" stroke="#2a2a2a" stroke-width="1.0"/>
<circle cx="108.6" cy="386.4" r="2.9499999999999997" fill="#fff" stroke="#111" stroke-width="0.95"/>
<path d="M125.4,388.6H135.7M125.4,386.0v5.2M135.7,386.0v5.2" fill="none" stroke="#2a2a2a" stroke-width="1.0"/>
<circle cx="130.2" cy="388.6" r="2.9499999999999997" fill="#fff" stroke="#111" stroke-width="0.95"/>
<path d="M164.3,379.1H179.1M164.3,376.5v5.2M179.1,376.5v5.2" fill="none" stroke="#2a2a2a" stroke-width="1.0"/>
<circle cx="171.7" cy="379.1" r="2.9499999999999997" fill="#fff" stroke="#111" stroke-width="0.95"/>
<path d="M125.4,346.2H137.2M125.4,343.6v5.2M137.2,343.6v5.2" fill="none" stroke="#2a2a2a" stroke-width="1.0"/>
<circle cx="131.3" cy="346.2" r="3.4" fill="#000"/>
<path d="M117.6,374.1H131.7M117.6,371.5v5.2M131.7,371.5v5.2" fill="none" stroke="#2a2a2a" stroke-width="1.0"/>
<circle cx="124.6" cy="374.1" r="3.4" fill="#000"/>
<path d="M130.6,380.1H157.3M130.6,377.5v5.2M157.3,377.5v5.2" fill="none" stroke="#2a2a2a" stroke-width="1.0"/>
<circle cx="143.9" cy="380.1" r="3.4" fill="#000"/>
<path d="M135.7,388.5H153.5M135.7,385.9v5.2M153.5,385.9v5.2" fill="none" stroke="#2a2a2a" stroke-width="1.0"/>
<circle cx="144.0" cy="388.5" r="3.4" fill="#000"/>
<path d="M166.3,382.9H178.0M166.3,380.3v5.2M178.0,380.3v5.2" fill="none" stroke="#2a2a2a" stroke-width="1.0"/>
<circle cx="172.1" cy="382.9" r="3.4" fill="#000"/>
<path d="M180.1,333.4V342.8M177.5,333.4h5.2M177.5,342.8h5.2M175.1,337.8H187.6M175.1,335.2v5.2M187.6,335.2v5.2" fill="none" stroke="#2a2a2a" stroke-width="1.0"/>
<circle cx="180.1" cy="337.8" r="3.4" fill="#000"/>
<path d="M169.9,367.6H193.2M169.9,365.0v5.2M193.2,365.0v5.2" fill="none" stroke="#2a2a2a" stroke-width="1.0"/>
<circle cx="181.1" cy="367.6" r="3.4" fill="#000"/>
<path d="M182.9,373.7H193.2M182.9,371.1v5.2M193.2,371.1v5.2" fill="none" stroke="#2a2a2a" stroke-width="1.0"/>
<circle cx="187.2" cy="373.7" r="3.4" fill="#000"/>
<path d="M189.2,352.5V361.0M186.6,352.5h5.2M186.6,361.0h5.2M180.4,356.8H197.7M180.4,354.2v5.2M197.7,354.2v5.2" fill="none" stroke="#2a2a2a" stroke-width="1.0"/>
<circle cx="189.2" cy="356.8" r="3.4" fill="#000"/>
<circle cx="189.2" cy="361.3" r="3.4" fill="#000"/>
<circle cx="198.6" cy="363.3" r="3.4" fill="#000"/>
<path d="M203.0,333.4V348.6M200.4,333.4h5.2M200.4,348.6h5.2M196.7,340.6H210.0M196.7,338.0v5.2M210.0,338.0v5.2" fill="none" stroke="#2a2a2a" stroke-width="1.0"/>
<circle cx="203.0" cy="340.6" r="3.4" fill="#000"/>
<path d="M208.1,331.1V345.9M205.5,331.1h5.2M205.5,345.9h5.2M203.0,338.6H216.0M203.0,336.0v5.2M216.0,336.0v5.2" fill="none" stroke="#2a2a2a" stroke-width="1.0"/>
<circle cx="208.1" cy="338.6" r="3.4" fill="#000"/>
<path d="M202.8,372.5H217.8M202.8,369.9v5.2M217.8,369.9v5.2" fill="none" stroke="#2a2a2a" stroke-width="1.0"/>
<circle cx="209.9" cy="372.5" r="3.4" fill="#000"/>
<path d="M195.0,392.0H205.2M195.0,389.4v5.2M205.2,389.4v5.2" fill="none" stroke="#2a2a2a" stroke-width="1.0"/>
<circle cx="199.5" cy="392.0" r="3.4" fill="#000"/>
<path d="M235.9,347.5V355.5M233.3,347.5h5.2M233.3,355.5h5.2M232.0,351.5H240.0M232.0,348.9v5.2M240.0,348.9v5.2" fill="none" stroke="#2a2a2a" stroke-width="1.0"/>
<circle cx="235.9" cy="351.5" r="3.4" fill="#000"/>
<path d="M242.4,361.6V372.3M239.8,361.6h5.2M239.8,372.3h5.2M237.9,367.0H247.1M237.9,364.4v5.2M247.1,364.4v5.2" fill="none" stroke="#2a2a2a" stroke-width="1.0"/>
<circle cx="242.4" cy="367.0" r="3.4" fill="#000"/>
<path d="M374.2,389.6H387.6M374.2,387.0v5.2M387.6,387.0v5.2" fill="none" stroke="#2a2a2a" stroke-width="1.0"/>
<circle cx="380.9" cy="389.6" r="2.9499999999999997" fill="#fff" stroke="#111" stroke-width="0.95"/>
<path d="M406.4,393.7H424.2M406.4,391.1v5.2M424.2,391.1v5.2" fill="none" stroke="#2a2a2a" stroke-width="1.0"/>
<circle cx="414.5" cy="393.7" r="2.9499999999999997" fill="#fff" stroke="#111" stroke-width="0.95"/>
<path d="M420.4,371.5H443.6M420.4,368.9v5.2M443.6,368.9v5.2" fill="none" stroke="#2a2a2a" stroke-width="1.0"/>
<circle cx="431.8" cy="371.5" r="2.9499999999999997" fill="#fff" stroke="#111" stroke-width="0.95"/>
<path d="M432.8,378.3H447.0M432.8,375.7v5.2M447.0,375.7v5.2" fill="none" stroke="#2a2a2a" stroke-width="1.0"/>
<circle cx="442.0" cy="378.3" r="2.9499999999999997" fill="#fff" stroke="#111" stroke-width="0.95"/>
<circle cx="445.8" cy="384.9" r="2.9499999999999997" fill="#fff" stroke="#111" stroke-width="0.95"/>
<circle cx="432.3" cy="387.6" r="2.9499999999999997" fill="#fff" stroke="#111" stroke-width="0.95"/>
<path d="M424.7,396.8H444.7M424.7,394.2v5.2M444.7,394.2v5.2" fill="none" stroke="#2a2a2a" stroke-width="1.0"/>
<circle cx="434.5" cy="396.8" r="2.9499999999999997" fill="#fff" stroke="#111" stroke-width="0.95"/>
<path d="M450.2,392.7H463.7M450.2,390.1v5.2M463.7,390.1v5.2" fill="none" stroke="#2a2a2a" stroke-width="1.0"/>
<circle cx="457.0" cy="392.7" r="2.9499999999999997" fill="#fff" stroke="#111" stroke-width="0.95"/>
<path d="M451.9,366.9H465.7M451.9,364.3v5.2M465.7,364.3v5.2" fill="none" stroke="#2a2a2a" stroke-width="1.0"/>
<circle cx="458.7" cy="366.9" r="2.9499999999999997" fill="#fff" stroke="#111" stroke-width="0.95"/>
<path d="M480.4,361.0V371.0M477.8,361.0h5.2M477.8,371.0h5.2M474.0,366.0H486.0M474.0,363.4v5.2M486.0,363.4v5.2" fill="none" stroke="#2a2a2a" stroke-width="1.0"/>
<circle cx="480.4" cy="366.0" r="2.9499999999999997" fill="#fff" stroke="#111" stroke-width="0.95"/>
<path d="M478.5,366.0V375.5M475.9,366.0h5.2M475.9,375.5h5.2" fill="none" stroke="#2a2a2a" stroke-width="1.0"/>
<circle cx="478.5" cy="370.7" r="2.9499999999999997" fill="#fff" stroke="#111" stroke-width="0.95"/>
<path d="M471.7,379.7H490.0M471.7,377.1v5.2M490.0,377.1v5.2" fill="none" stroke="#2a2a2a" stroke-width="1.0"/>
<circle cx="486.3" cy="379.7" r="2.9499999999999997" fill="#fff" stroke="#111" stroke-width="0.95"/>
<path d="M488.0,382.0H521.2M488.0,379.4v5.2M521.2,379.4v5.2" fill="none" stroke="#2a2a2a" stroke-width="1.0"/>
<circle cx="501.5" cy="382.0" r="2.9499999999999997" fill="#fff" stroke="#111" stroke-width="0.95"/>
<path d="M467.8,389.6H483.0M467.8,387.0v5.2M483.0,387.0v5.2" fill="none" stroke="#2a2a2a" stroke-width="1.0"/>
<circle cx="476.0" cy="389.6" r="2.9499999999999997" fill="#fff" stroke="#111" stroke-width="0.95"/>
<path d="M480.5,391.5H490.3M480.5,388.9v5.2M490.3,388.9v5.2" fill="none" stroke="#2a2a2a" stroke-width="1.0"/>
<circle cx="484.7" cy="391.5" r="2.9499999999999997" fill="#fff" stroke="#111" stroke-width="0.95"/>
<path d="M352.4,393.8H366.3M352.4,391.2v5.2M366.3,391.2v5.2" fill="none" stroke="#2a2a2a" stroke-width="1.0"/>
<circle cx="359.1" cy="393.8" r="3.4" fill="#000"/>
<path d="M388.6,394.1H402.6M388.6,391.5v5.2M402.6,391.5v5.2" fill="none" stroke="#2a2a2a" stroke-width="1.0"/>
<circle cx="396.1" cy="394.1" r="3.4" fill="#000"/>
<path d="M385.3,349.6H413.6M385.3,347.0v5.2M413.6,347.0v5.2" fill="none" stroke="#2a2a2a" stroke-width="1.0"/>
<circle cx="399.5" cy="349.6" r="3.4" fill="#000"/>
<path d="M405.4,340.9H424.9M405.4,338.3v5.2M424.9,338.3v5.2" fill="none" stroke="#2a2a2a" stroke-width="1.0"/>
<circle cx="415.1" cy="340.9" r="3.4" fill="#000"/>
<path d="M407.6,364.1H424.3M407.6,361.5v5.2M424.3,361.5v5.2" fill="none" stroke="#2a2a2a" stroke-width="1.0"/>
<circle cx="415.7" cy="364.1" r="3.4" fill="#000"/>
<path d="M411.2,389.2H442.6M411.2,386.6v5.2M442.6,386.6v5.2" fill="none" stroke="#2a2a2a" stroke-width="1.0"/>
<circle cx="432.3" cy="389.2" r="3.4" fill="#000"/>
<path d="M455.0,323.8V335.9M452.4,323.8h5.2M452.4,335.9h5.2M449.2,329.7H459.3M449.2,327.1v5.2M459.3,327.1v5.2" fill="none" stroke="#2a2a2a" stroke-width="1.0"/>
<circle cx="455.0" cy="329.7" r="3.4" fill="#000"/>
<path d="M477.8,334.2V344.5M475.2,334.2h5.2M475.2,344.5h5.2M470.8,339.3H485.3M470.8,336.7v5.2M485.3,336.7v5.2" fill="none" stroke="#2a2a2a" stroke-width="1.0"/>
<circle cx="477.8" cy="339.3" r="3.4" fill="#000"/>
<path d="M445.2,357.9H458.0M445.2,355.3v5.2M458.0,355.3v5.2" fill="none" stroke="#2a2a2a" stroke-width="1.0"/>
<circle cx="452.5" cy="357.9" r="3.4" fill="#000"/>
<path d="M457.0,358.1H472.5M457.0,355.5v5.2M472.5,355.5v5.2" fill="none" stroke="#2a2a2a" stroke-width="1.0"/>
<circle cx="462.8" cy="358.1" r="3.4" fill="#000"/>
<path d="M477.7,356.0V365.0M475.1,356.0h5.2M475.1,365.0h5.2M471.5,360.5H484.3M471.5,357.9v5.2M484.3,357.9v5.2" fill="none" stroke="#2a2a2a" stroke-width="1.0"/>
<circle cx="477.7" cy="360.5" r="3.4" fill="#000"/>
<path d="M475.8,362.5V371.5M473.2,362.5h5.2M473.2,371.5h5.2M470.0,367.0H484.0M470.0,364.4v5.2M484.0,364.4v5.2" fill="none" stroke="#2a2a2a" stroke-width="1.0"/>
<circle cx="475.8" cy="367.0" r="3.4" fill="#000"/>
<circle cx="455.3" cy="374.4" r="3.4" fill="#000"/>
<path d="M440.0,379.0H460.0M440.0,376.4v5.2M460.0,376.4v5.2" fill="none" stroke="#2a2a2a" stroke-width="1.0"/>
<circle cx="450.8" cy="379.0" r="3.4" fill="#000"/>
<path d="M447.0,381.6H467.1M447.0,379.0v5.2M467.1,379.0v5.2" fill="none" stroke="#2a2a2a" stroke-width="1.0"/>
<circle cx="456.4" cy="381.6" r="3.4" fill="#000"/>
</svg>
</body></html>
